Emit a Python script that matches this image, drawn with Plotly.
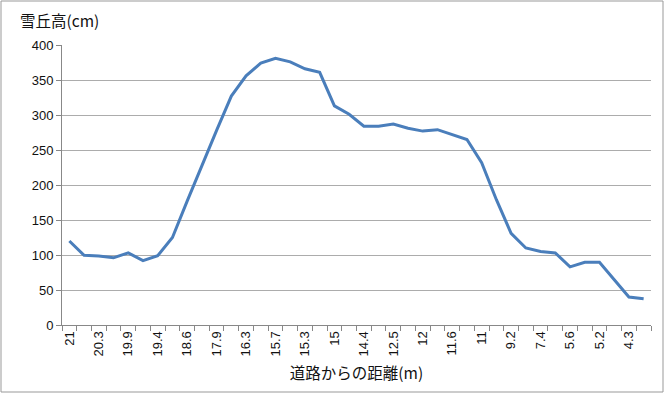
import plotly.graph_objects as go

# distance from road (m); odd-position labels are hidden in the reference, estimated here
distances = ["21", "20.7", "20.3", "20.1", "19.9", "19.6", "19.4", "19", "18.6", "18.2",
             "17.9", "17.1", "16.3", "16", "15.7", "15.5", "15.3", "15.1", "15", "14.7",
             "14.4", "13.5", "12.5", "12.2", "12", "11.8", "11.6", "11.3", "11", "10.1",
             "9.2", "8.3", "7.4", "6.5", "5.6", "5.4", "5.2", "4.8", "4.3", "3.9"]
heights = [120, 99.5, 98.6, 96, 103, 92, 99, 125, 177, 228,
           278, 327, 356, 374, 381, 376, 366, 361, 313, 301,
           284, 284, 287, 281, 277, 279, 272, 265, 232, 179,
           131, 110, 105, 103, 83, 89.5, 89.5, 65, 40, 37.5]
shown_labels = [d if i % 2 == 0 else "" for i, d in enumerate(distances)]
y_ticks = [0, 50, 100, 150, 200, 250, 300, 350, 400]

W, H = 665, 394
ML, MR, MT, MB = 62, 14, 45, 69
PW, PH = W - ML - MR, H - MT - MB

fig = go.Figure()
fig.add_trace(go.Scatter(
    x=distances, y=heights, mode="lines",
    line=dict(color="#4A7EBB", width=3),
    hoverinfo="x+y", showlegend=False,
))

num_font = dict(family="Liberation Sans, Arial, sans-serif", size=13, color="#111111")
title_font = dict(family="Noto Sans CJK JP", size=15.5, color="#111111")

fig.update_layout(
    width=W, height=H,
    margin=dict(l=ML, r=MR, t=MT, b=MB, autoexpand=False),
    paper_bgcolor="white", plot_bgcolor="white",
    xaxis=dict(
        type="category", tickmode="array", tickvals=distances, ticktext=shown_labels,
        range=[-0.5, len(distances) - 0.5], automargin=False,
        tickson="boundaries", ticks="outside", ticklen=5, tickcolor="#888888",
        tickangle=-90, tickfont=num_font,
        showline=True, linecolor="#888888", linewidth=1,
        showgrid=False, zeroline=False,
        title=dict(text="道路からの距離(m)", font=title_font, standoff=12),
    ),
    yaxis=dict(
        range=[0, 400], tickmode="array", tickvals=y_ticks, automargin=False,
        ticks="outside", ticklen=5, tickcolor="#888888", tickfont=num_font,
        showline=True, linecolor="#888888", linewidth=1,
        showgrid=True, gridcolor="#acacac", gridwidth=1, zeroline=False,
    ),
    annotations=[dict(
        text="雪丘高(cm)", xref="paper", yref="paper",
        x=(18 - ML) / PW, y=(MT + PH - 20) / PH, xanchor="left", yanchor="middle",
        showarrow=False, font=title_font,
    )],
    shapes=[dict(
        type="rect", xref="paper", yref="paper",
        x0=(1 - ML) / PW, x1=(W - 2 - ML) / PW,
        y0=(MT + PH - (H - 2)) / PH, y1=(MT + PH - 1) / PH,
        line=dict(color="#999999", width=1), layer="below",
    )],
)

fig.write_html("out.html", config={"displayModeBar": False},
               post_script="document.body.style.margin='0';document.body.style.overflow='hidden';")
